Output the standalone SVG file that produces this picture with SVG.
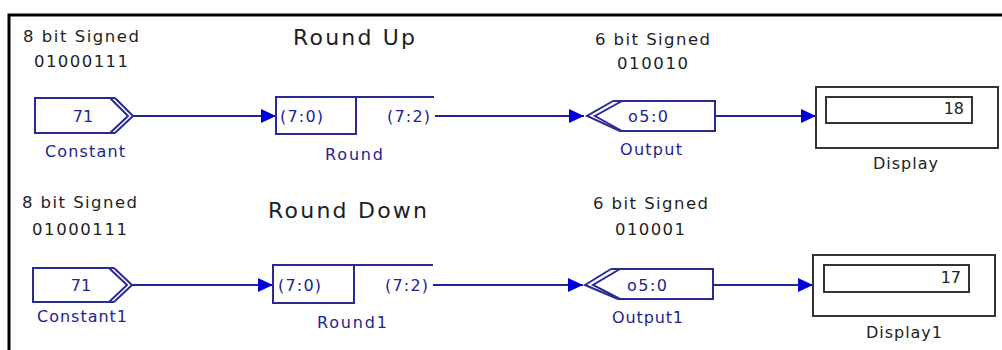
<svg xmlns="http://www.w3.org/2000/svg" width="1002" height="350" viewBox="0 0 1002 350">
<style>
.bg{fill:#ffffff}
.frame{stroke:#000;stroke-width:3;fill:none}
.note{font-family:"DejaVu Sans",Verdana,sans-serif;font-size:16.5px;fill:#1e1e1e}
.title{font-family:"DejaVu Sans",Verdana,sans-serif;font-size:22px;fill:#1e1e1e}
.lbl{font-family:"DejaVu Sans",Verdana,sans-serif;font-size:16px;fill:#23238f}
.blk{fill:none;stroke:#2a2a96;stroke-width:2}
.port{font-family:"DejaVu Sans",Verdana,sans-serif;font-size:16px;fill:#23238f}
.disp{fill:#fff;stroke:#333;stroke-width:2}
.dlbl{font-family:"DejaVu Sans",Verdana,sans-serif;font-size:16px;fill:#222}
.wire{stroke:#2222a0;stroke-width:2;fill:none}
</style>
<defs>
<marker id="arr" markerUnits="userSpaceOnUse" markerWidth="16" markerHeight="14" refX="15" refY="7" orient="auto">
<path d="M0,0 L15,7 L0,14 Z" fill="#0000dd"/>
</marker>
</defs>
<rect class="bg" x="0" y="0" width="1002" height="350"/>
<path class="frame" d="M9,350 V15 H1002"/>

<g id="titles">
<text class="title" x="293" y="45" textLength="122">Round Up</text>
<text class="title" x="268" y="218" textLength="159">Round Down</text>
</g>

<g id="notes">
<text class="note" x="23" y="42" textLength="116">8 bit Signed</text>
<text class="note" x="34" y="67" textLength="94">01000111</text>
<text class="note" x="595" y="45" textLength="115">6 bit Signed</text>
<text class="note" x="617" y="69" textLength="71">010010</text>
<text class="note" x="22" y="208" textLength="115">8 bit Signed</text>
<text class="note" x="32" y="235" textLength="95">01000111</text>
<text class="note" x="593" y="209" textLength="115">6 bit Signed</text>
<text class="note" x="615" y="235" textLength="70">010001</text>
</g>

<g id="connectors">
<line class="wire" x1="133" y1="116" x2="276" y2="116" marker-end="url(#arr)"/>
<line class="wire" x1="435" y1="116" x2="584" y2="116" marker-end="url(#arr)"/>
<line class="wire" x1="715" y1="116" x2="816" y2="116" marker-end="url(#arr)"/>
<line class="wire" x1="132" y1="285" x2="273" y2="285" marker-end="url(#arr)"/>
<line class="wire" x1="433" y1="285" x2="583" y2="285" marker-end="url(#arr)"/>
<line class="wire" x1="713" y1="285" x2="813" y2="285" marker-end="url(#arr)"/>
</g>

<g id="constant">
<path class="blk" d="M115,98 H35 V133 H115"/>
<path class="blk" d="M110,98 L128,116 L110,133"/>
<path class="blk" d="M115,98 L133,116 L115,133"/>
<text class="port" x="83" y="122" text-anchor="middle">71</text>
<text class="lbl" x="45" y="157" textLength="80">Constant</text>
</g>

<g id="round">
<rect class="blk" x="276" y="97" width="80" height="37"/>
<line class="blk" x1="356" y1="97" x2="434" y2="97"/>
<text class="port" x="280" y="122" textLength="43">(7:0)</text>
<text class="port" x="387" y="122" textLength="43">(7:2)</text>
<text class="lbl" x="325" y="160" textLength="58">Round</text>
</g>

<g id="output">
<path class="blk" d="M613,101 H715 V131 H620"/>
<path class="blk" d="M613,101 L587,116 L620,131"/>
<path class="blk" d="M622,101 L595,116 L622,131"/>
<text class="port" x="628" y="122" textLength="40">o5:0</text>
<text class="lbl" x="620" y="155" textLength="62">Output</text>
</g>

<g id="display">
<rect class="disp" x="816" y="87" width="182" height="61"/>
<rect class="disp" x="826" y="97" width="146" height="26"/>
<text class="dlbl" x="964" y="114" text-anchor="end">18</text>
<text class="dlbl" x="873" y="169" textLength="65">Display</text>
</g>

<g id="constant1">
<path class="blk" d="M114,268 H33 V302 H114"/>
<path class="blk" d="M109,268 L127,285 L109,302"/>
<path class="blk" d="M114,268 L132,285 L114,302"/>
<text class="port" x="81" y="291" text-anchor="middle">71</text>
<text class="lbl" x="37" y="322" textLength="90">Constant1</text>
</g>

<g id="round1">
<rect class="blk" x="273" y="265" width="81" height="38"/>
<line class="blk" x1="354" y1="265" x2="433" y2="265"/>
<text class="port" x="278" y="291" textLength="43">(7:0)</text>
<text class="port" x="385" y="291" textLength="43">(7:2)</text>
<text class="lbl" x="317" y="328" textLength="70">Round1</text>
</g>

<g id="output1">
<path class="blk" d="M611,269 H713 V299 H618"/>
<path class="blk" d="M611,269 L585,285 L618,299"/>
<path class="blk" d="M620,269 L593,285 L620,299"/>
<text class="port" x="627" y="291" textLength="40">o5:0</text>
<text class="lbl" x="612" y="323" textLength="71">Output1</text>
</g>

<g id="display1">
<rect class="disp" x="813" y="255" width="182" height="61"/>
<rect class="disp" x="824" y="265" width="145" height="27"/>
<text class="dlbl" x="961" y="283" text-anchor="end">17</text>
<text class="dlbl" x="866" y="338" textLength="76">Display1</text>
</g>
</svg>
